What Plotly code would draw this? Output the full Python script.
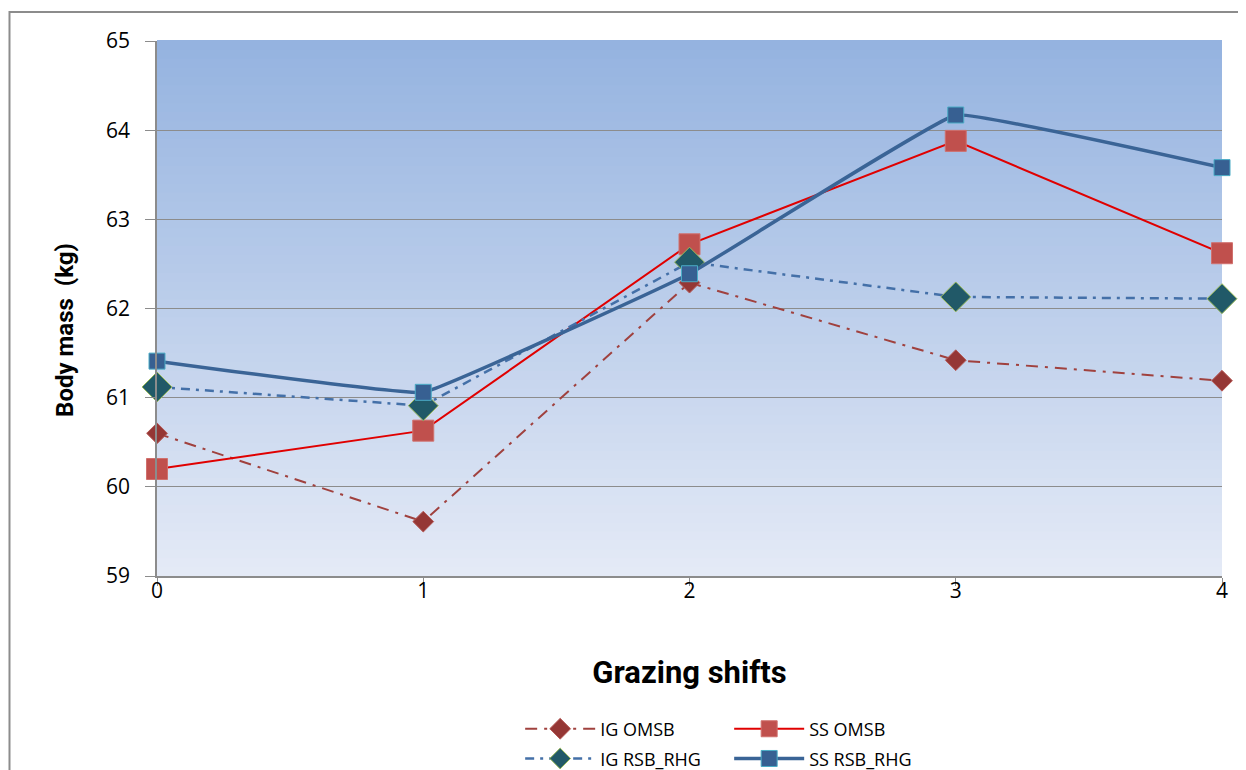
import plotly.graph_objects as go

# ---- data ----
shifts = [0, 1, 2, 3, 4]
ig_omsb = [60.60, 59.61, 62.29, 61.42, 61.19]
ss_omsb = [60.20, 60.63, 62.72, 63.88, 62.62]
ig_rsb_rhg = [61.12, 60.91, 62.52, 62.13, 62.11]
ss_rsb_rhg = [61.41, 61.06, 62.39, 64.17, 63.58]
y_ticks = [59, 60, 61, 62, 63, 64, 65]
x_ticks = [0, 1, 2, 3, 4]

FONT = "Open Sans"
TFONT = "Roboto"
fig = go.Figure()

fig.add_trace(go.Scatter(
    x=shifts, y=ig_omsb, name="IG OMSB", mode="lines+markers",
    line=dict(color="#A0413E", width=2, dash="12px,7px,3px,7px"),
    marker=dict(symbol="diamond", size=16, color="#953735",
                line=dict(color="#B65A57", width=1)),
    cliponaxis=False, legend="legend"))
fig.add_trace(go.Scatter(
    x=shifts, y=ss_omsb, name="SS OMSB", mode="lines+markers",
    line=dict(color="#E00000", width=2),
    marker=dict(symbol="square", size=21, color="#C0504D",
                line=dict(color="#D0706D", width=1)),
    cliponaxis=False, legend="legend"))
fig.add_trace(go.Scatter(
    x=shifts, y=ig_rsb_rhg, name="IG RSB_RHG", mode="lines+markers",
    line=dict(color="#4470A8", width=2.5, dash="9px,6px,3px,6px"),
    marker=dict(symbol="diamond", size=23, color="#215968",
                line=dict(color="#9BBB59", width=1)),
    cliponaxis=False, legend="legend2"))
fig.add_trace(go.Scatter(
    x=shifts, y=ss_rsb_rhg, name="SS RSB_RHG", mode="lines+markers",
    line=dict(color="#3A6496", width=3.5, shape="spline", smoothing=0.2),
    marker=dict(symbol="square", size=16, color="#376092",
                line=dict(color="#4BACC6", width=1)),
    cliponaxis=False, legend="legend2"))

# gradient plot background
n = 60
top = (0x95, 0xB3, 0xE0)
bot = (0xE4, 0xEA, 0xF6)
shapes = []
for i in range(n):
    t = i / (n - 1)
    c = tuple(round(bot[k] + (top[k] - bot[k]) * t) for k in range(3))
    shapes.append(dict(type="rect", xref="x domain", yref="y domain",
                       x0=0, x1=1, y0=i / n, y1=(i + 1) / n + 0.002,
                       fillcolor="rgb(%d,%d,%d)" % c, line=dict(width=0),
                       layer="below"))
# outer chart border
shapes.append(dict(type="rect", xref="paper", yref="paper",
                   x0=-0.1385, x1=1.05, y0=-0.45, y1=1.0542,
                   line=dict(color="#8C8C8C", width=2), fillcolor="rgba(0,0,0,0)",
                   layer="below"))

leg_common = dict(orientation="h", xanchor="left", yanchor="top", yref="container",
                  font=dict(size=18, family=FONT), entrywidth=124,
                  bgcolor="rgba(0,0,0,0)", itemwidth=70)

fig.update_layout(
    width=1238, height=762,
    margin=dict(l=149, r=24, t=33, b=194, autoexpand=False),
    paper_bgcolor="white", plot_bgcolor="rgba(0,0,0,0)",
    font=dict(family=FONT, color="#000000"),
    shapes=shapes,
    showlegend=True,
    legend=dict(x=0.341, y=0.078, **leg_common),
    legend2=dict(x=0.341, y=0.039, **leg_common),
    annotations=[dict(text="<b>Body mass  (kg)</b>", textangle=-90,
                      xref="paper", yref="paper", x=-0.0864, y=0.46,
                      xanchor="center", yanchor="middle", showarrow=False,
                      font=dict(size=24, family=TFONT, color="#000000"))],
    xaxis=dict(range=[0, 4], tickvals=x_ticks, ticktext=[str(v) for v in x_ticks],
               showgrid=False, zeroline=False, showline=True, linecolor="#8C8C8C",
               linewidth=1.5, ticks="outside", ticklen=8, tickcolor="#8C8C8C",
               ticklabelstandoff=-13,
               tickfont=dict(size=21, family=FONT),
               title=dict(text="<b>Grazing shifts</b>", font=dict(size=31, family=TFONT),
                          standoff=58)),
    yaxis=dict(range=[59, 65], tickvals=y_ticks, ticktext=[str(v) for v in y_ticks],
               showgrid=True, gridcolor="#8C8C8C", gridwidth=1.2, zeroline=False,
               showline=True, linecolor="#8C8C8C", linewidth=1.5,
               ticks="outside", ticklen=10, tickcolor="#8C8C8C",
               ticklabelstandoff=11,
               tickfont=dict(size=21, family=FONT)),
)

fig.write_html("out.html")
